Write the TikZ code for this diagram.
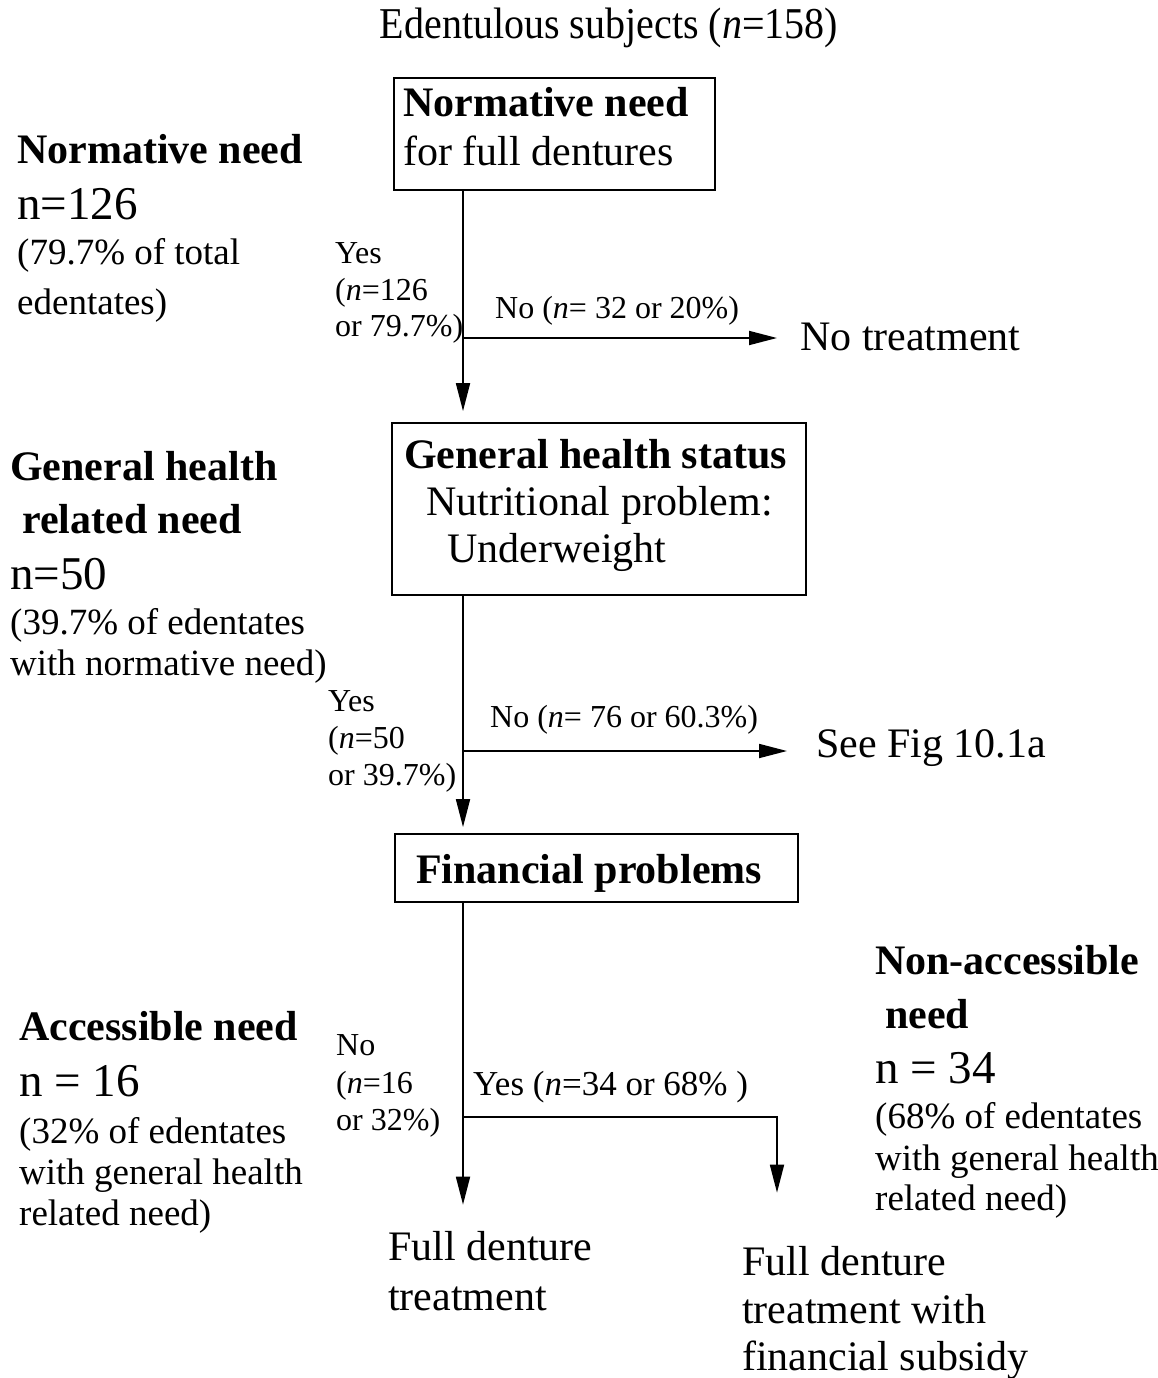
\documentclass[tikz,border=0pt]{standalone}
\usepackage{fontspec}
\usepackage{graphicx}
\setmainfont{Liberation Serif}
\usetikzlibrary{arrows.meta}
\begin{document}
\begin{tikzpicture}[x=1pt,y=-1pt,
  box/.style={draw, line width=1.8pt, inner sep=0pt},
  conn/.style={line width=1.8pt, -{Triangle[length=28pt,width=14pt]}},
  txt/.style={anchor=base west, inner sep=0pt, font=\fontsize{42}{48}\selectfont},
  hd/.style={txt, font=\fontsize{42}{48}\selectfont\bfseries},
  big/.style={txt, font=\fontsize{47}{54}\selectfont},
  note/.style={txt, font=\fontsize{37}{42}\selectfont},
  lab/.style={txt, font=\fontsize{32}{36}\selectfont},
]
\useasboundingbox (0,0) rectangle (1158,1378);

% heading
\node[anchor=base, inner sep=0pt, font=\fontsize{40}{46}\selectfont] (title) at (609,39)
  {\scalebox{1}[1.1]{Edentulous subjects (\textit{n}=158)}};

% decision boxes
\node[box, minimum width=321pt, minimum height=112pt] (b1) at (554.5,134) {};
\node[hd]  (b1a) at (403,117) {Normative need};
\node[txt] (b1b) at (403,165) {for full dentures};

\node[box, minimum width=414pt, minimum height=172pt] (b2) at (599,509) {};
\node[hd]  (b2a) at (404,468) {General health status};
\node[txt] (b2b) at (426,515) {Nutritional problem:};
\node[txt] (b2c) at (447,562) {Underweight};

\node[box, minimum width=403pt, minimum height=68pt] (b3) at (596.5,868) {};
\node[hd]  (b3a) at (416,883) {Financial problems};

% left-hand summaries
\node[hd]   (l1a) at (17,163) {Normative need};
\node[big]  (l1b) at (17,219) {n=126};
\node[note] (l1c) at (17,264) {(79.7\% of total};
\node[note] (l1d) at (17,314) {edentates)};

\node[hd]   (l2a) at (10,480) {General health};
\node[hd]   (l2b) at (22,533) {related need};
\node[big]  (l2c) at (10,589) {n=50};
\node[note] (l2d) at (10,634) {(39.7\% of edentates};
\node[note] (l2e) at (10,675) {with normative need)};

\node[hd]   (l3a) at (19,1040) {Accessible need};
\node[big]  (l3b) at (19,1096) {n = 16};
\node[note] (l3c) at (19,1143) {(32\% of edentates};
\node[note] (l3d) at (19,1184) {with general health};
\node[note] (l3e) at (19,1225) {related need)};

% right-hand summary
\node[hd]   (r1a) at (875,974) {Non-accessible};
\node[hd]   (r1b) at (885,1028) {need};
\node[big]  (r1c) at (875,1083) {n = 34};
\node[note] (r1d) at (875,1128) {(68\% of edentates};
\node[note] (r1e) at (875,1170) {with general health};
\node[note] (r1f) at (875,1210) {related need)};

% branch labels
\node[lab] (y1a) at (335,263) {Yes};
\node[lab] (y1b) at (335,300) {(\textit{n}=126};
\node[lab] (y1c) at (335,336) {or 79.7\%)};
\node[lab] (n1)  at (495,318) {No (\textit{n}= 32 or 20\%)};

\node[lab] (y2a) at (328,711) {Yes};
\node[lab] (y2b) at (328,748) {(\textit{n}=50};
\node[lab] (y2c) at (328,785) {or 39.7\%)};
\node[lab] (n2)  at (490,727) {No (\textit{n}= 76 or 60.3\%)};

\node[lab] (n3a) at (336,1055) {No};
\node[lab] (n3b) at (336,1093) {(\textit{n}=16};
\node[lab] (n3c) at (336,1130) {or 32\%)};
\node[lab, font=\fontsize{35}{40}\selectfont] (y3) at (473,1095) {Yes (\textit{n}=34 or 68\% )};

% outcomes
\node[txt] (nt)   at (800,350)  {No treatment};
\node[txt] (sf)   at (816,757)  {See Fig 10.1a};
\node[txt] (fd1a) at (388,1260) {Full denture};
\node[txt] (fd1b) at (388,1310) {treatment};
\node[txt] (fd2a) at (742,1275) {Full denture};
\node[txt] (fd2b) at (742,1323) {treatment with};
\node[txt] (fd2c) at (742,1370) {financial subsidy};

% branching points on the main line
\coordinate (j1) at (463,338);
\coordinate (j2) at (463,751);
\coordinate (j3) at (463,1117);
\coordinate (k3) at (777,1117);

% connectors
\draw[conn, shorten >=11pt] (b1.south -| j1) -- (b2.north -| j1);
\draw[conn, shorten >=23pt] (j1) -- (j1 -| nt.west);
\draw[conn, shorten >=6pt]  (b2.south -| j2) -- (b3.north -| j2);
\draw[conn, shorten >=29pt] (j2) -- (j2 -| sf.west);
\draw[conn, shorten >=26pt] (b3.south -| j3) -- (fd1a.north -| j3);
\draw[conn, shorten >=53pt] (j3) -| (fd2a.north -| k3);
\end{tikzpicture}
\end{document}
